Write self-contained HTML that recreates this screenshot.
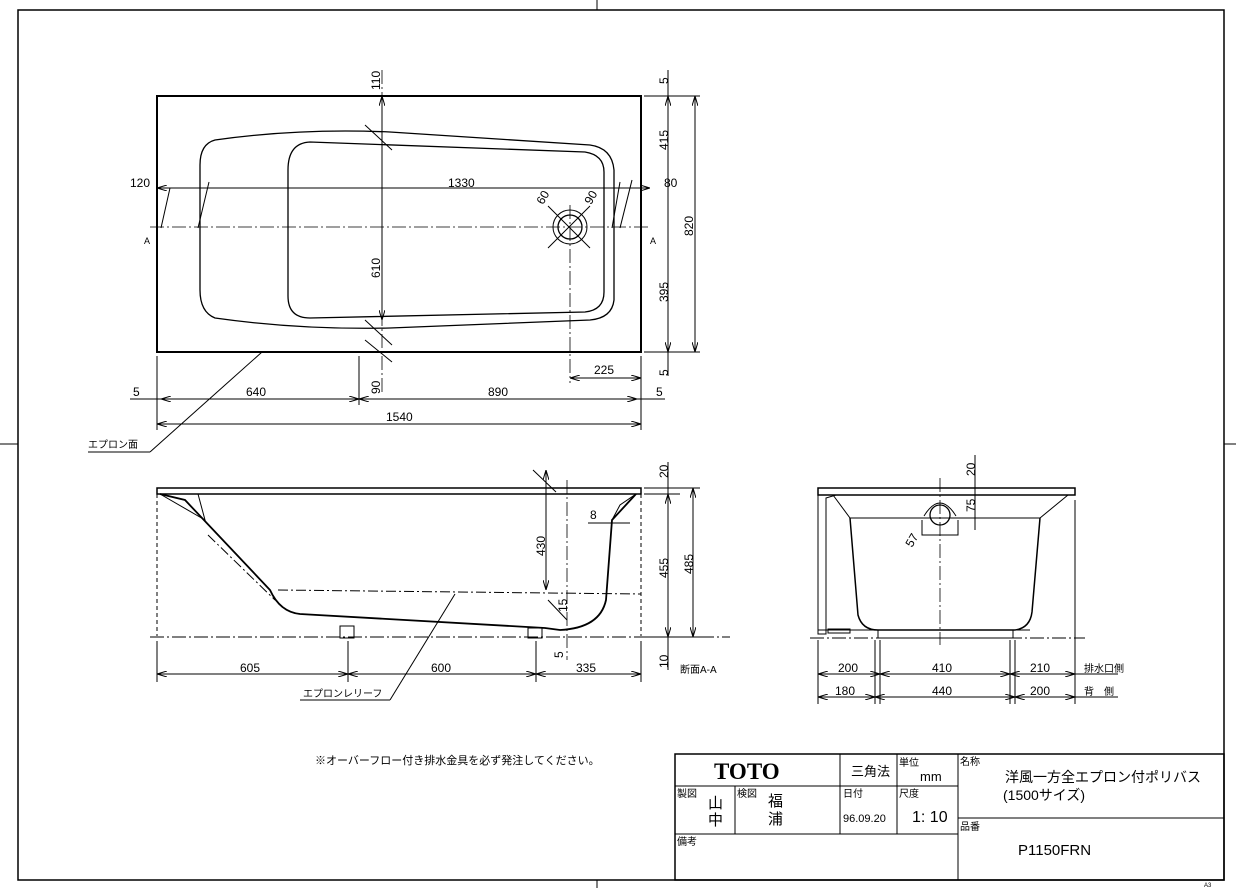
<!DOCTYPE html>
<html><head><meta charset="utf-8"><style>
html,body{margin:0;padding:0;background:#fff}
svg{display:block}
text{font-family:"Liberation Sans","Noto Sans CJK JP",sans-serif;fill:#000}
</style></head><body>
<svg width="1236" height="888" viewBox="0 0 1236 888" xmlns="http://www.w3.org/2000/svg">
<defs>
<marker id="a" viewBox="0 0 10 6" refX="10" refY="3" markerWidth="10" markerHeight="6" orient="auto-start-reverse" markerUnits="userSpaceOnUse"><path d="M0,0 L10,3 L0,6" fill="none" stroke="#000" stroke-width="1"/></marker>
</defs>
<g fill="none" stroke="#000" stroke-width="1">
<rect x="18" y="10" width="1206" height="870" stroke-width="1.5"/>
<line x1="597" y1="0" x2="597" y2="10"/><line x1="597" y1="880" x2="597" y2="888"/>
<line x1="0" y1="444" x2="18" y2="444"/><line x1="1224" y1="444" x2="1236" y2="444"/>

<rect x="157" y="96" width="484" height="256" stroke-width="2"/>
<path d="M215,140 Q300,128 390,132 L590,145 Q612,148 614,170 L614,300 Q612,318 590,320 L390,328 Q300,330 215,318 Q200,312 200,290 L200,165 Q200,144 215,140 Z" stroke-width="1.3"/>
<path d="M310,142 L585,152 Q604,155 604,172 L604,292 Q604,310 585,312 L310,318 Q288,318 288,296 L288,170 Q288,143 310,142 Z" stroke-width="1.3"/>
<circle cx="570" cy="227" r="12" stroke-width="1.3"/><circle cx="570" cy="227" r="17"/>
<g stroke-dasharray="14,3,2,3" stroke-width="0.8">
<line x1="150" y1="227" x2="650" y2="227"/>
<line x1="382" y1="70" x2="382" y2="392"/>
<line x1="570" y1="205" x2="570" y2="383"/>
</g>
<line x1="157" y1="188" x2="650" y2="188" marker-start="url(#a)" marker-end="url(#a)"/>
<line x1="161" y1="228" x2="170" y2="188"/><line x1="198" y1="228" x2="209" y2="182"/>
<line x1="612" y1="228" x2="620" y2="182"/><line x1="620" y1="228" x2="632" y2="180"/>
<line x1="382" y1="96" x2="382" y2="320" marker-start="url(#a)" marker-end="url(#a)"/>
<line x1="365" y1="125" x2="392" y2="150"/><line x1="365" y1="320" x2="392" y2="345"/>
<line x1="365" y1="340" x2="392" y2="362"/>
<line x1="548" y1="206" x2="590" y2="248"/><line x1="590" y1="206" x2="548" y2="248"/>
<line x1="644" y1="96" x2="700" y2="96"/><line x1="644" y1="352" x2="700" y2="352"/>
<line x1="668" y1="70" x2="668" y2="376"/>
<line x1="668" y1="96" x2="668" y2="352" marker-start="url(#a)" marker-end="url(#a)"/>
<line x1="695" y1="96" x2="695" y2="352" marker-start="url(#a)" marker-end="url(#a)"/>
<line x1="157" y1="356" x2="157" y2="430"/><line x1="641" y1="356" x2="641" y2="430"/>
<line x1="359" y1="356" x2="359" y2="405"/>
<line x1="130" y1="399" x2="665" y2="399"/>
<line x1="161" y1="399" x2="359" y2="399" marker-start="url(#a)" marker-end="url(#a)"/>
<line x1="359" y1="399" x2="637" y2="399" marker-start="url(#a)" marker-end="url(#a)"/>
<line x1="157" y1="424" x2="641" y2="424" marker-start="url(#a)" marker-end="url(#a)"/>
<line x1="570" y1="378" x2="641" y2="378" marker-start="url(#a)" marker-end="url(#a)"/>
<line x1="88" y1="452" x2="150" y2="452"/><line x1="150" y1="452" x2="262" y2="352"/>

<rect x="157" y="488" width="484" height="6" stroke-width="1.5"/>
<path d="M160,494 L185,500 L270,590 Q280,612 300,614 L545,628 L560,630 Q600,628 606,600 L612,520 L636,494" stroke-width="1.8"/>
<path d="M160,494 L205,520 L198,494"/>
<path d="M612,520 L620,505 L636,494"/>
<line x1="208" y1="535" x2="275" y2="600" stroke-dasharray="10,3,2,3"/>
<line x1="278" y1="590" x2="641" y2="594" stroke-dasharray="10,3,2,3"/>
<line x1="157" y1="494" x2="157" y2="636" stroke-dasharray="4,3"/>
<line x1="641" y1="494" x2="641" y2="636" stroke-dasharray="4,3"/>
<line x1="150" y1="637" x2="730" y2="637" stroke-dasharray="14,3,2,3"/>
<rect x="340" y="626" width="14" height="12"/><rect x="528" y="628" width="14" height="10"/>
<line x1="567" y1="480" x2="567" y2="660" stroke-dasharray="14,3,2,3" stroke-width="0.8"/>
<line x1="546" y1="470" x2="546" y2="590" marker-start="url(#a)" marker-end="url(#a)"/>
<line x1="533" y1="470" x2="556" y2="492"/>
<line x1="548" y1="600" x2="567" y2="620"/>
<line x1="588" y1="523" x2="630" y2="523"/>
<line x1="644" y1="488" x2="700" y2="488"/><line x1="644" y1="494" x2="680" y2="494"/><line x1="644" y1="637" x2="700" y2="637"/>
<line x1="668" y1="462" x2="668" y2="670"/>
<line x1="668" y1="494" x2="668" y2="637" marker-start="url(#a)" marker-end="url(#a)"/>
<line x1="693" y1="488" x2="693" y2="637" marker-start="url(#a)" marker-end="url(#a)"/>
<line x1="157" y1="641" x2="157" y2="682"/><line x1="348" y1="641" x2="348" y2="682"/><line x1="536" y1="641" x2="536" y2="682"/><line x1="641" y1="641" x2="641" y2="682"/>
<line x1="157" y1="674" x2="348" y2="674" marker-start="url(#a)" marker-end="url(#a)"/>
<line x1="348" y1="674" x2="536" y2="674" marker-start="url(#a)" marker-end="url(#a)"/>
<line x1="536" y1="674" x2="641" y2="674" marker-start="url(#a)" marker-end="url(#a)"/>
<line x1="300" y1="700" x2="390" y2="700"/><line x1="390" y1="700" x2="455" y2="594"/>

<rect x="818" y="488" width="257" height="7" stroke-width="1.5"/>
<path d="M818,495 L818,634 L826,634 L826,498 L836,495"/>
<path d="M833,495 L850,518 L1040,518 L1068,495" />
<path d="M850,518 L858,615 Q862,630 878,630 L1015,630 Q1030,628 1032,612 L1040,518" stroke-width="1.5"/>
<path d="M818,630 L1030,630"/><rect x="828" y="629" width="22" height="4"/>
<rect x="878" y="630" width="135" height="8"/>
<circle cx="940" cy="515" r="10" stroke-width="1.3"/>
<path d="M922,520 L922,535 L958,535 L958,520 M924,516 Q940,490 956,516"/>
<line x1="940" y1="478" x2="940" y2="645" stroke-dasharray="14,3,2,3" stroke-width="0.8"/>
<line x1="810" y1="638" x2="1085" y2="638" stroke-dasharray="14,3,2,3"/>
<line x1="975" y1="455" x2="975" y2="530"/>
<line x1="1075" y1="500" x2="1075" y2="704"/>
<line x1="818" y1="640" x2="818" y2="704"/><line x1="875" y1="640" x2="875" y2="704"/><line x1="880" y1="640" x2="880" y2="704"/>
<line x1="1010" y1="640" x2="1010" y2="704"/><line x1="1015" y1="640" x2="1015" y2="704"/>
<line x1="818" y1="674" x2="880" y2="674" marker-start="url(#a)" marker-end="url(#a)"/>
<line x1="880" y1="674" x2="1010" y2="674" marker-start="url(#a)" marker-end="url(#a)"/>
<line x1="1010" y1="674" x2="1075" y2="674" marker-start="url(#a)" marker-end="url(#a)"/>
<line x1="818" y1="697" x2="875" y2="697" marker-start="url(#a)" marker-end="url(#a)"/>
<line x1="875" y1="697" x2="1015" y2="697" marker-start="url(#a)" marker-end="url(#a)"/>
<line x1="1015" y1="697" x2="1075" y2="697" marker-start="url(#a)" marker-end="url(#a)"/>
<line x1="1075" y1="674" x2="1118" y2="674"/><line x1="1075" y1="697" x2="1118" y2="697"/>

<rect x="675" y="754" width="549" height="126" stroke-width="1.5"/>
<line x1="675" y1="786" x2="958" y2="786"/>
<line x1="675" y1="834" x2="958" y2="834"/>
<line x1="958" y1="818" x2="1224" y2="818"/>
<line x1="840" y1="754" x2="840" y2="834"/><line x1="897" y1="754" x2="897" y2="834"/>
<line x1="958" y1="754" x2="958" y2="880"/><line x1="735" y1="786" x2="735" y2="834"/>
</g>

<g font-size="12">
<text x="130" y="187">120</text><text x="448" y="187">1330</text><text x="664" y="187">80</text>
<text x="540" y="200" transform="rotate(-60 546 200)">60</text>
<text x="588" y="200" transform="rotate(-60 594 200)">90</text>
<text x="144" y="244" font-size="9">A</text><text x="650" y="244" font-size="9">A</text>
<text transform="translate(380,90) rotate(-90)">110</text>
<text transform="translate(380,278) rotate(-90)">610</text>
<text transform="translate(380,394) rotate(-90)">90</text>
<text transform="translate(668,84) rotate(-90)">5</text>
<text transform="translate(668,150) rotate(-90)">415</text>
<text transform="translate(668,302) rotate(-90)">395</text>
<text transform="translate(668,376) rotate(-90)">5</text>
<text transform="translate(693,236) rotate(-90)">820</text>
<text x="594" y="374">225</text>
<text x="133" y="396">5</text><text x="246" y="396">640</text><text x="488" y="396">890</text><text x="656" y="396">5</text>
<text x="386" y="421">1540</text>
<text x="88" y="448" font-size="10">エプロン面</text>
<text transform="translate(668,478) rotate(-90)">20</text>
<text transform="translate(668,578) rotate(-90)">455</text>
<text transform="translate(693,574) rotate(-90)">485</text>
<text transform="translate(668,668) rotate(-90)">10</text>
<text transform="translate(545,556) rotate(-90)">430</text>
<text transform="translate(567,612) rotate(-90)">15</text>
<text transform="translate(563,658) rotate(-90)">5</text>
<text x="590" y="519">8</text>
<text x="240" y="672">605</text><text x="431" y="672">600</text><text x="576" y="672">335</text>
<text x="680" y="673" font-size="10">断面A-A</text>
<text x="303" y="697" font-size="10">エプロンレリーフ</text>
<text transform="translate(975,476) rotate(-90)">20</text>
<text transform="translate(975,512) rotate(-90)">75</text>
<text transform="translate(912,548) rotate(-60)">57</text>
<text x="838" y="672">200</text><text x="932" y="672">410</text><text x="1030" y="672">210</text>
<text x="1084" y="672" font-size="10">排水口側</text>
<text x="835" y="695">180</text><text x="932" y="695">440</text><text x="1030" y="695">200</text>
<text x="1084" y="695" font-size="10">背　側</text>
<text x="315" y="764" font-size="11">※オーバーフロー付き排水金具を必ず発注してください。</text>
<text x="714" y="779" font-size="23" font-weight="bold" style="font-family:'Liberation Serif',serif">TOTO</text>
<text x="851" y="776" font-size="13">三角法</text>
<text x="899" y="766" font-size="10">単位</text><text x="920" y="781" font-size="13">mm</text>
<text x="960" y="765" font-size="10">名称</text>
<text x="1005" y="782" font-size="14">洋風一方全エプロン付ポリバス</text>
<text x="1003" y="800" font-size="14">(1500サイズ)</text>
<text x="677" y="797" font-size="10">製図</text><text x="737" y="797" font-size="10">検図</text>
<text x="708" y="808" font-size="15">山</text><text x="708" y="825" font-size="15">中</text>
<text x="768" y="806" font-size="15">福</text><text x="768" y="824" font-size="15">浦</text>
<text x="843" y="797" font-size="10">日付</text><text x="843" y="822" font-size="11">96.09.20</text>
<text x="899" y="797" font-size="10">尺度</text><text x="912" y="822" font-size="16">1: 10</text>
<text x="960" y="830" font-size="10">品番</text>
<text x="1018" y="855" font-size="15">P1150FRN</text>
<text x="677" y="845" font-size="10">備考</text>
<text x="1204" y="887" font-size="6">A3</text>
</g>
</svg>
</body></html>
